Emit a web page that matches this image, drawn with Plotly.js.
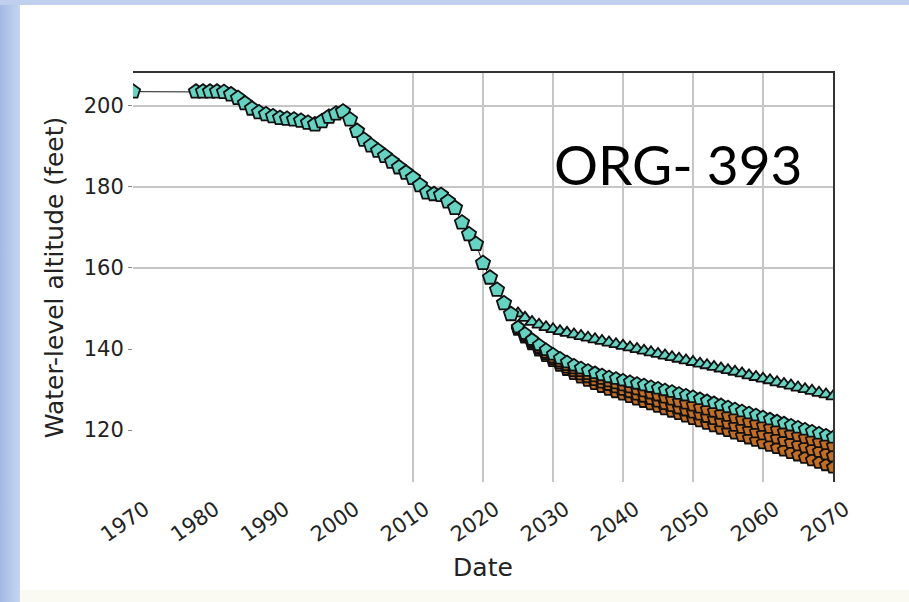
<!DOCTYPE html>
<html>
<head>
<meta charset="utf-8">
<script src="https://cdn.plot.ly/plotly-3.0.1.min.js"></script>
<style>
  html, body { margin: 0; padding: 0; background: #ffffff; }
  #wrap { position: relative; width: 909px; height: 602px; overflow: hidden; background: #ffffff; }
  #leftbar { position: absolute; left: 0; top: 0; width: 20px; height: 602px; background: linear-gradient(to right, #a3b9e5, #c6d5f1); }
  #topbar { position: absolute; left: 0; top: 0; width: 909px; height: 5px; background: #c0cfee; }
  #bottombar { position: absolute; left: 20px; top: 590px; width: 889px; height: 12px; background: #fbfaf2; }
  #chart { position: absolute; left: 0; top: 0; width: 909px; height: 602px; }
</style>
</head>
<body>
<div id="wrap">
  <div id="leftbar"></div>
  <div id="topbar"></div>
  <div id="bottombar"></div>
  <div id="chart"></div>
</div>
<script>
// ---- data ----
const histYears = [1970, 1979, 1980, 1981, 1982, 1983, 1984, 1985, 1986, 1987, 1988, 1989,
  1990, 1991, 1992, 1993, 1994, 1995, 1996, 1997, 1998, 1999,
  2000, 2001, 2002, 2003, 2004, 2005, 2006, 2007, 2008, 2009,
  2010, 2011, 2012, 2013, 2014, 2015, 2016, 2017, 2018, 2019,
  2020, 2021, 2022, 2023, 2024];
const histLevel = [203.5, 203.5, 203.5, 203.5, 203.5, 203.4, 202.8, 201.9, 200.6, 199.3, 198.4, 197.9,
  197.4, 197.0, 196.8, 196.6, 196.3, 195.8, 195.4, 196.2, 197.3, 198.1,
  198.6, 196.6, 193.8, 191.6, 190.2, 188.9, 187.6, 186.2, 184.8, 183.5,
  182.2, 180.4, 178.6, 178.2, 178.0, 176.4, 174.8, 171.2, 168.3, 165.9,
  161.2, 157.6, 154.6, 151.3, 148.6];

const projYears = [2025, 2026, 2027, 2028, 2029,
  2030, 2031, 2032, 2033, 2034, 2035, 2036, 2037, 2038, 2039,
  2040, 2041, 2042, 2043, 2044, 2045, 2046, 2047, 2048, 2049,
  2050, 2051, 2052, 2053, 2054, 2055, 2056, 2057, 2058, 2059,
  2060, 2061, 2062, 2063, 2064, 2065, 2066, 2067, 2068, 2069, 2070];

const projHigh = [148.8, 147.7, 146.7, 146.0, 145.4,
  144.9, 144.4, 144.0, 143.6, 143.2, 142.8, 142.4, 142.0, 141.6, 141.2,
  140.8, 140.4, 140.0, 139.6, 139.2, 138.8, 138.4, 138.0, 137.6, 137.2,
  136.8, 136.4, 136.0, 135.6, 135.2, 134.8, 134.4, 134.0, 133.5, 133.1,
  132.7, 132.3, 131.8, 131.4, 131.0, 130.5, 130.1, 129.7, 129.2, 128.8, 128.3];

const projMid = [145.4, 143.8, 142.3, 141.0, 139.8,
  138.7, 137.7, 136.8, 136.0, 135.3, 134.7, 134.1, 133.6, 133.1, 132.7,
  132.3, 131.9, 131.5, 131.1, 130.7, 130.3, 129.9, 129.5, 129.0, 128.6,
  128.2, 127.7, 127.2, 126.7, 126.2, 125.7, 125.2, 124.7, 124.2, 123.7,
  123.2, 122.7, 122.2, 121.7, 121.2, 120.7, 120.2, 119.7, 119.2, 118.7, 118.2];

const projLowA = [145.2, 143.5, 141.9, 140.5, 139.2,
  138.0, 137.0, 136.1, 135.3, 134.6, 133.9, 133.3, 132.7, 132.1, 131.6,
  131.1, 130.6, 130.1, 129.6, 129.1, 128.6, 128.1, 127.6, 127.1, 126.6,
  126.1, 125.6, 125.1, 124.6, 124.1, 123.6, 123.1, 122.6, 122.1, 121.6,
  121.1, 120.6, 120.1, 119.6, 119.1, 118.6, 118.1, 117.6, 117.1, 116.6, 116.1];

const projLowB = [145.0, 143.2, 141.6, 140.1, 138.8,
  137.6, 136.5, 135.5, 134.6, 133.8, 133.1, 132.4, 131.8, 131.2, 130.6,
  130.0, 129.4, 128.8, 128.3, 127.7, 127.1, 126.5, 126.0, 125.4, 124.9,
  124.4, 123.9, 123.3, 122.8, 122.2, 121.7, 121.1, 120.6, 120.1, 119.5,
  119.0, 118.5, 118.0, 117.4, 116.9, 116.3, 115.8, 115.2, 114.7, 114.1, 113.6];

const projLowC = [144.8, 142.9, 141.2, 139.7, 138.3,
  137.1, 135.9, 134.9, 133.9, 133.0, 132.2, 131.4, 130.7, 130.0, 129.4,
  128.8, 128.2, 127.6, 127.0, 126.4, 125.8, 125.2, 124.6, 124.0, 123.4,
  122.8, 122.2, 121.6, 121.0, 120.4, 119.8, 119.2, 118.6, 118.0, 117.4,
  116.8, 116.2, 115.6, 115.0, 114.4, 113.8, 113.2, 112.6, 112.0, 111.4, 110.8];

const xTicks = [1970, 1980, 1990, 2000, 2010, 2020, 2030, 2040, 2050, 2060, 2070];
const xGridTicks = [2010, 2020, 2030, 2040, 2050, 2060, 2070];
const yTicks = [120, 140, 160, 180, 200];
const yGridTicks = [160, 180, 200];
const wellLabel = 'ORG- 393';

// ---- styles ----
const cyan = '#66d3c2';
const orange = '#c26f25';
const edge = {color: '#111111', width: 1.8};

function series(x, y, fill, symbol, size) {
  return {
    type: 'scatter', mode: 'lines+markers', x: x, y: y,
    line: {color: '#1a1a1a', width: 1},
    marker: {symbol: symbol, size: size, color: fill, line: edge},
    showlegend: false, hoverinfo: 'x+y'
  };
}

const data = [
  // empty trace that carries the top/right frame and the partial grid
  {type: 'scatter', mode: 'markers', x: [], y: [], xaxis: 'x2', yaxis: 'y2', showlegend: false, hoverinfo: 'skip'},
  series(projYears, projLowC, orange, 'pentagon', 13),
  series(projYears, projLowB, orange, 'pentagon', 13),
  series(projYears, projLowA, orange, 'pentagon', 13),
  series(projYears, projMid, cyan, 'pentagon', 13),
  series(projYears, projHigh, cyan, 'triangle-up', 12),
  series(histYears, histLevel, cyan, 'pentagon', 15)
];

const yRange = [107.2, 208.1];
const xRange = [1970, 2070];
const tickFont = {family: 'DejaVu Sans, sans-serif', size: 21, color: '#222222'};
const titleFont = {family: 'DejaVu Sans, sans-serif', size: 25, color: '#222222'};

const layout = {
  width: 909, height: 602,
  margin: {l: 133, r: 76, t: 73, b: 120, pad: 0},
  paper_bgcolor: 'rgba(0,0,0,0)',
  plot_bgcolor: 'rgba(0,0,0,0)',
  showlegend: false,
  xaxis: {
    range: xRange, tickmode: 'array', tickvals: xTicks, ticktext: xTicks.map(String),
    tickangle: -35, showgrid: false, showline: false, zeroline: false, ticks: '',
    tickfont: tickFont, ticklabelshift: 12, ticklabelstandoff: 10,
    title: {text: 'Date', font: titleFont, standoff: 12}
  },
  xaxis2: {
    overlaying: 'x', anchor: 'y2', side: 'top', range: xRange,
    tickmode: 'array', tickvals: xGridTicks, showticklabels: false, ticks: '',
    showgrid: true, gridcolor: '#c6c6c6', gridwidth: 1.4,
    showline: true, linecolor: '#333333', linewidth: 2.2, zeroline: false
  },
  yaxis: {
    range: yRange, tickmode: 'array', tickvals: yTicks, ticktext: yTicks.map(String),
    showgrid: false, showline: false, zeroline: false,
    ticks: 'outside', ticklen: 4, tickcolor: '#888888', tickwidth: 1,
    tickfont: tickFont,
    title: {text: 'Water-level altitude (feet)', font: titleFont, standoff: 12}
  },
  yaxis2: {
    overlaying: 'y', anchor: 'x2', side: 'right', range: yRange,
    tickmode: 'array', tickvals: yGridTicks, showticklabels: false, ticks: '',
    showgrid: true, gridcolor: '#c6c6c6', gridwidth: 1.4,
    showline: true, linecolor: '#333333', linewidth: 2.2, zeroline: false
  },
  annotations: [{
    text: wellLabel, xref: 'paper', yref: 'paper', x: 0.779, y: 0.778,
    xanchor: 'center', yanchor: 'middle', showarrow: false,
    font: {family: 'Lato, Open Sans, sans-serif', size: 55, color: '#000000'}
  }]
};

Plotly.newPlot('chart', data, layout, {displayModeBar: false, staticPlot: true});
</script>
</body>
</html>
